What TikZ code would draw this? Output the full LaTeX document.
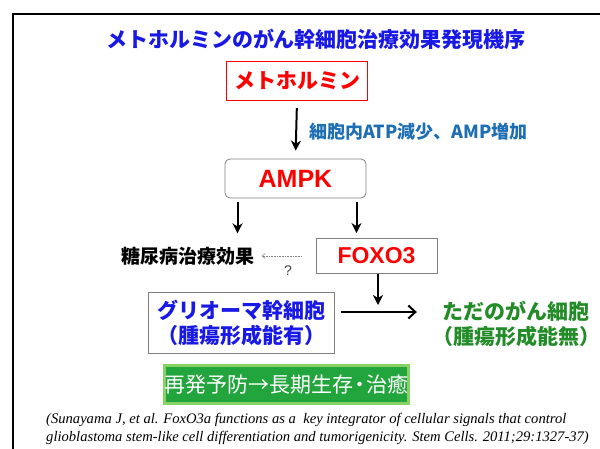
\documentclass[tikz,border=0pt]{standalone}
\usepackage{fontspec}
\setmainfont{Liberation Sans}
\newfontfamily\jp{Noto Sans CJK JP}
\newfontfamily\citefont{Liberation Serif}
\usetikzlibrary{arrows.meta}
\definecolor{titleblue}{RGB}{25,25,230}
\definecolor{atpblue}{RGB}{30,110,180}
\definecolor{boxgray}{RGB}{128,128,128}
\definecolor{txtgreen}{RGB}{35,140,40}
\definecolor{gfill}{RGB}{34,165,60}
\definecolor{gborder}{RGB}{135,210,100}
\newcommand{\fs}[1]{\fontsize{#1}{#1}\selectfont}
\tikzset{
  graybox/.style={draw=boxgray, line width=0.8pt, fill=white, inner sep=0pt},
  arr/.style={line width=2pt, -{Stealth[length=10pt,width=10pt,inset=3pt]}},
  dotarr/.style={draw=gray, line width=0.6pt, densely dotted, -{Straight Barb[length=3pt,width=5pt]}},
  harr/.style={line width=2pt, -{Straight Barb[length=7pt,width=13pt]}},
  plain/.style={inner sep=0pt, align=center}
}
\begin{document}
\begin{tikzpicture}[x=1pt,y=-1pt]
\useasboundingbox (0,0) rectangle (600,448);
\draw[line width=2pt] (13,449) -- (13,14) -- (601,14);

\node[plain, text=titleblue] (title) at (316,39) {\jp\bfseries\fs{21}メトホルミンのがん幹細胞治療効果発現機序};

\node[draw=red, line width=1.2pt, minimum width=141pt, minimum height=39pt, inner sep=0pt, text=red] (met) at (297,81) {\jp\bfseries\fs{21}メトホルミン};

\node[plain, text=atpblue, anchor=west] (atp) at (309,132) {\jp\bfseries\fs{18}細胞内ATP減少、AMP増加};

\node[graybox, rounded corners=5pt, minimum width=141pt, minimum height=39pt, text=red] (ampk) at (295.5,178.5) {\bfseries\fs{25}AMPK};

\node[plain] (dm) at (188,256) {\jp\bfseries\fs{19}糖尿病治療効果};

\node[graybox, minimum width=121pt, minimum height=35pt, text=red] (foxo) at (376.5,256) {\bfseries\fs{23}FOXO3};

\node[plain, text=black!75] (q) at (288,271) {\fs{14}?};

\node[graybox, minimum width=186pt, minimum height=61pt, text=titleblue, align=center] (gli) at (241,323) {\jp\bfseries\fs{21}グリオーマ幹細胞\\[3pt]\jp\bfseries\fs{21}（腫瘍形成能有）};

\node[plain, text=txtgreen] (tada) at (516,324) {\jp\bfseries\fs{21}ただのがん細胞\\[3pt]\jp\bfseries\fs{21}（腫瘍形成能無）};

\node[draw=gborder, line width=2.5pt, fill=gfill, minimum width=242pt, minimum height=38pt, inner sep=0pt, text=white] (goal) at (286.5,384.5) {\jp\fs{21}再発予防→長期生存\kern-4pt・\kern-4pt治癒};

\node[anchor=west, inner sep=0pt] (cit1) at (46,420) {\citefont\itshape\fs{14.6}(Sunayama J, et al. FoxO3a functions as a\ \ key integrator of cellular signals that control};
\node[anchor=west, inner sep=0pt] (cit2) at (46,438) {\citefont\itshape\fs{14.6}glioblastoma stem-like cell differentiation and tumorigenicity. Stem Cells. 2011;29:1327-37)};

\coordinate (join) at (378,305);

\draw[arr, shorten <=7pt, shorten >=8pt] (met.south) -- (ampk.north);
\draw[arr] ([xshift=-58pt,yshift=-4pt]ampk.south) -- ++(0,31);
\draw[arr] ([xshift=61pt,yshift=-4pt]ampk.south) -- ([xshift=-20pt,yshift=5pt]foxo.north);
\draw[dotarr] ([xshift=-14pt]foxo.west) -- ([xshift=7pt]dm.east);
\draw[arr] (foxo.south -| join) -- (join);
\draw[harr] ([xshift=7pt]gli.east |- 0,312) -- ([xshift=-15pt]tada.west |- 0,312);
\end{tikzpicture}
\end{document}
